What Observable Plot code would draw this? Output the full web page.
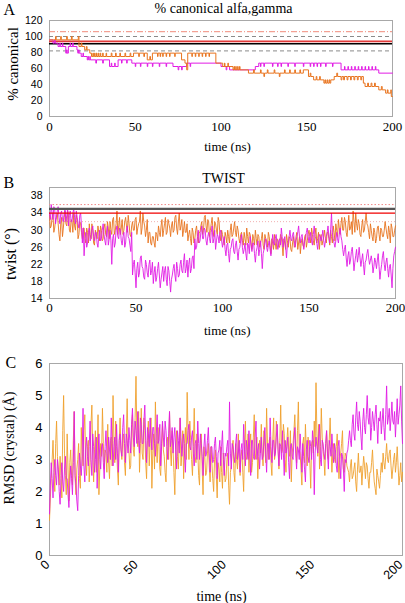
<!DOCTYPE html>
<html><head><meta charset="utf-8">
<script src="https://cdn.jsdelivr.net/npm/d3@7"></script>
<script src="https://cdn.jsdelivr.net/npm/@observablehq/plot@0.6"></script>
<style>
body{margin:0;background:#fff;}
#wrap{position:relative;width:405px;height:603px;overflow:hidden;background:#fff;}
.panel{position:absolute;left:0;}
.ylab{position:absolute;white-space:nowrap;font-family:"Liberation Serif","Times New Roman",serif;color:#000;transform:translate(-50%,-50%) rotate(-90deg);line-height:1;}
</style></head><body><div id="wrap"></div>
<script>
// ---------- tick labels ----------
const timeTicks = [0, 50, 100, 150, 200];
const canonTicks = [0, 20, 40, 60, 80, 100, 120];
const twistTicks = [14, 18, 22, 26, 30, 34, 38];
const rmsdTicks = [0, 1, 2, 3, 4, 5, 6];

// ---------- panel A: % canonical alfa,gamma ([time ns, %]) ----------
const canonRefDashDot = [106];
const canonRefGray = [100, 82];
const canonRefRed = [94];
const canonRefBlack = [91];

const canonOrange = [[0,95.8],[3.5,100],[3.9,95.8],[6.5,100],[6.9,95.8],[10,100],[10.4,95.8],[12.8,100],[13.2,95.8],[16.8,100],[17.2,87.5],[18.5,91.7],[18.9,87.5],[20.5,83.3],[21.5,87.5],[21.9,83.3],[23.5,79.2],[24.5,75],[25.3,79.2],[25.6,75],[26.3,79.2],[26.6,75],[27.4,79.2],[27.7,75],[28.5,79.2],[28.8,75],[29.6,79.2],[29.9,75],[31,79.2],[31.3,75],[33,79.2],[33.3,75],[36,79.2],[36.4,75],[38.5,79.2],[38.9,75],[41,79.2],[41.4,75],[44,79.2],[44.4,75],[47,79.2],[47.4,75],[49,79.2],[52,75],[52.4,79.2],[55,75],[55.4,79.2],[57,70.8],[58.5,75],[58.9,70.8],[60,79.2],[63,75],[63.3,79.2],[64.5,75],[64.8,79.2],[66,75],[66.3,79.2],[68,75],[68.3,79.2],[70,75],[70.3,79.2],[73,75],[73.3,79.2],[77,70.8],[79,66.7],[80,58.3],[80.6,79.2],[83,75],[83.3,79.2],[85,75],[85.3,79.2],[87,75],[87.3,79.2],[89,75],[89.3,79.2],[91,75],[91.3,79.2],[93,75],[93.3,79.2],[97,66.7],[101,62.5],[102,66.7],[102.3,62.5],[104,66.7],[104.3,62.5],[107,58.3],[107.6,62.5],[107.9,58.3],[108.6,62.5],[108.9,58.3],[109.7,62.5],[110,58.3],[110.8,62.5],[111.1,58.3],[116,54.2],[119,58.3],[119.4,54.2],[123,58.3],[123.4,54.2],[125,50],[125.4,54.2],[127,58.3],[127.4,54.2],[131,58.3],[131.4,54.2],[134,50],[134.4,54.2],[137,58.3],[137.4,54.2],[140,58.3],[140.4,54.2],[143,58.3],[143.4,54.2],[146,58.3],[146.4,54.2],[148,58.3],[151,50],[152,54.2],[152.4,50],[154,45.8],[155.5,50],[155.9,45.8],[157.5,50],[157.9,45.8],[160,41.7],[160.6,45.8],[161,41.7],[161.8,45.8],[162.2,41.7],[163,45.8],[163.4,41.7],[164,45.8],[166,50],[167.5,54.2],[168,50],[170,45.8],[170.5,50],[171.5,45.8],[172,50],[173.5,45.8],[174,50],[175.5,45.8],[176,50],[177.5,45.8],[178,50],[179.5,45.8],[180,50],[181.5,45.8],[182,50],[183,41.7],[184,37.5],[185.5,41.7],[186,37.5],[187.5,41.7],[188,37.5],[189.5,41.7],[190,37.5],[192,33.3],[193.5,37.5],[194,33.3],[196,29.2],[197,33.3],[197.4,29.2],[199,33.3],[199.3,25],[200,25]];

const canonMagenta = [[0,95.8],[2,91.7],[3,95.8],[3.3,91.7],[5,87.5],[6,91.7],[6.3,87.5],[7.5,91.7],[7.8,87.5],[9.5,79.2],[10,83.3],[10.3,79.2],[11,87.5],[12,91.7],[12.3,87.5],[13.5,91.7],[13.8,87.5],[16,83.3],[16.5,79.2],[17,83.3],[17.3,79.2],[18.5,75],[19.5,79.2],[19.8,75],[22,70.8],[22.4,75],[22.8,70.8],[23.5,75],[23.8,70.8],[27,66.7],[27.4,70.8],[31,66.7],[31.4,70.8],[35,62.5],[36,66.7],[36.3,62.5],[38,66.7],[38.3,62.5],[40,70.8],[42,66.7],[42.3,70.8],[45,66.7],[45.3,70.8],[48,66.7],[50,62.5],[50.3,66.7],[53,62.5],[53.3,66.7],[57,62.5],[57.3,66.7],[60,62.5],[60.3,66.7],[64,62.5],[64.3,66.7],[68,62.5],[68.3,66.7],[72,62.5],[75,58.3],[75.4,62.5],[77,58.3],[77.4,62.5],[80,66.7],[82,62.5],[82.3,66.7],[100,62.5],[103,58.3],[103.4,62.5],[105,58.3],[120,62.5],[122,66.7],[123,62.5],[123.3,66.7],[125,62.5],[125.3,66.7],[130,62.5],[130.3,66.7],[133,62.5],[133.3,66.7],[135,62.5],[135.3,66.7],[139,62.5],[139.3,66.7],[143,62.5],[143.3,66.7],[148,62.5],[148.3,66.7],[152,62.5],[152.3,66.7],[154,62.5],[154.3,66.7],[156,62.5],[156.3,66.7],[158,62.5],[158.3,66.7],[161,62.5],[161.3,66.7],[165,62.5],[165.3,66.7],[170,58.3],[172,62.5],[172.3,58.3],[174,62.5],[174.3,58.3],[176,62.5],[176.3,58.3],[178,62.5],[178.3,58.3],[180,62.5],[180.3,58.3],[182,62.5],[182.3,58.3],[184,62.5],[184.3,58.3],[186,62.5],[186.3,58.3],[188,62.5],[188.3,58.3],[190,62.5],[190.3,58.3],[192,54.2],[200,54.2]];

// ---------- panel B: TWIST (values at whole ns 0..200, and at half ns 0.5..199.5) ----------
const twistRefDotted = [36];
const twistRefGray = [35];
const twistRefRed = [34];
const twistRefFaint = [32];

const twistOrange = [
33.5,31,34,30.5,33,31.5,27.5,33,30.5,34.5,
31,33.5,29.5,32,34,30,32.5,29,31.5,28,
30.5,27,29.5,31.5,28,30,26.5,29,31,27.5,
30,28,31.5,28.5,30.5,32,29,33,30,34.5,
31,29,32.5,30,33,29.5,31.5,28.5,32,30,
33,30.5,32,29,34,31,30,27,29.5,26.5,
28.5,26,29,31,28.5,32.5,30,33,29.5,31.5,
28.5,32,30,33.5,29,34,31,28.5,32,29.5,
27.5,30,26.5,29.5,28,31,27,29.5,32,30,
33.5,29.5,32,30,33,28.5,31.5,29,32,27.5,
29,26.5,28.5,30,27,31.5,29,32,28.5,30,
27,29.5,26.5,28,30.5,27,29,25.5,28,30,
26.5,28.5,27,29.5,25.5,28,26,28.5,24.5,27,
29,25.5,27.5,26,28.5,24,27,29,26,28,
25,28.5,26.5,29.5,27,24.5,28,26,29,27.5,
30,27,29,26.5,30.5,28,25.5,29,27.5,30,
27,29.5,26.5,28.5,31,27.5,30,32.5,29,33,
30,32,28.5,33.5,30.5,29,32,34,30,31.5,
28.5,32.5,30,34,31,28,30,27.5,29.5,28,
31,27.5,30,28.5,32,29,31,27,30.5,28.5,
31];
const twistOrangeHalf = [
30.5,33,29.5,32.5,34,29,31.5,28.5,33,31.5,
34.5,30,32.5,29.5,31,33.5,28,32,29.5,30.5,
28,30.5,27,29,31.5,27,30,28,29.5,31,
27.5,30.5,29,32,28,30,32.5,29,31.5,29,
33,30.5,29,32,31,33.5,29,31,30,32.5,
29,31.5,34.5,30.5,32,28.5,32.5,29.5,27,28.5,
27,29.5,27.5,29.5,31,28.5,31.5,29,32.5,30.5,
31,29.5,33,30.5,32,30,32.5,30,29.5,31.5,
29,28,30.5,27,30,28.5,29.5,31,29,33,
31,32.5,28.5,31.5,30,32,30,33,29,30,
27.5,29.5,27,28.5,30,28.5,30.5,29.5,31,28,
29,27.5,29.5,26.5,28.5,29.5,27,29,26.5,28,
29,26,28,26.5,29,27.5,29.5,26.5,28,25.5,
27,28,26,29,26.5,28,25.5,27.5,28.5,25.5,
27,26,28.5,25.5,28.5,27,26.5,28.5,26,29,
28.5,30.5,27.5,29,27,29.5,28,26.5,28.5,28,
29.5,28,30,27,29.5,31.5,28.5,30.5,31.5,30,
33,29.5,31,30,32,34.5,29.5,31.5,32.5,29,
31,29.5,32,31.5,29.5,31.5,28.5,30.5,27,30.5,
29,30.5,28.5,30,30.5,28,29.5,31.5,28.5,30];

const twistMagenta = [
34,36,32.5,35,33,35.5,31.5,34.5,32,35,
33.5,31,34.5,32,35,31.5,33,30.5,34,27,
24,29.5,27,30.5,28,31,27.5,29.5,26,30,
28,31.5,27.5,29.5,26.5,30,22,29,27,31,
28,30,26.5,29.5,27,31,28,25,19.5,23,
16.5,22.5,20,24,21,18.5,22,19,23,20.5,
17.5,21.5,19,22.5,16.5,20,18,21.5,17,20.5,
15.5,19.5,22,18,21,19.5,23,20,24.5,21,
19,23.5,21,24,28,26,30,27.5,31,28,
30,26.5,29.5,27,31,28,25.5,29,27,30,
26,28.5,24,27,22.5,26,28,24.5,27.5,23,
26,29,24.5,27,23,26.5,28.5,25,27,22.5,
26,24,27.5,21,25.5,28,25,27.5,24,29,
26.5,29,25.5,28,30.5,26,28.5,23.5,27,30,
27.5,29.5,26,28.5,31,27,29,25.5,28,30.5,
27,29.5,26.5,31,28,25.5,29,27.5,30,26,
28.5,31,27,34,28,26,29.5,27,30.5,27.5,
24,26.5,21.5,25,23,26,20.5,24,22.5,26,
21.5,24.5,19.5,23,25.5,22,24,20,23.5,21,
24.5,18.5,22,25,20.5,23.5,19,22,16.5,24,
26];
const twistMagentaHalf = [
32.5,34,35.5,31.5,34.5,33,34,32.5,34,32,
35,33.5,32,34,33,34.5,31.5,33.5,31,30.5,
28,26,29.5,27.5,30,28.5,29.5,27,28.5,27.5,
30,29,26.5,31,28,27.5,28,26,30,28.5,
30.5,27.5,28.5,26,30,28.5,26.5,29.5,22,20,
21,19,23.5,21.5,19,23,20,22,19.5,22.5,
20,18,21,19.5,18.5,21.5,20.5,18.5,21.5,18,
18.5,21,19.5,22.5,19,22,20.5,22.5,20,23,
22,20,23.5,21,25.5,28.5,27,29.5,28,30.5,
27.5,28.5,28,29.5,27,30,27.5,28.5,29.5,27.5,
27.5,25.5,26.5,24.5,25.5,27.5,25,26.5,25,25.5,
27.5,26,25.5,24.5,27,24.5,26.5,27,24.5,25,
27.5,25.5,24.5,24.5,27,26,26.5,25.5,26.5,27,
28,27,27.5,26.5,28.5,27.5,26,26.5,28.5,28,
29,27.5,27.5,29.5,28.5,28.5,27,27.5,29.5,28.5,
28.5,27.5,29,28.5,27,27.5,28.5,28.5,27.5,27.5,
29.5,28.5,30,29.5,27,27.5,28,29,28.5,25.5,
25.5,23.5,24,22,25,23.5,22.5,25.5,24,23.5,
23,22,22.5,24.5,23.5,23,22.5,21.5,22.5,23,
21.5,20.5,24,22,22.5,21,21.5,19.5,21,25];

// ---------- panel C: RMSD (crystal) (values at whole ns and at half ns) ----------
const rmsdOrange = [
1.1,2.4,3.6,2.0,4.2,2.6,3.1,1.8,5.0,2.5,
3.8,1.7,3.3,2.2,4.5,1.9,3.0,2.4,4.0,2.8,
4.4,2.5,3.6,2.9,4.7,2.3,3.9,3.0,1.9,3.5,
4.6,2.7,3.2,4.1,2.4,3.7,5.0,2.9,3.4,2.2,
4.3,3.0,3.8,2.5,4.9,3.3,2.8,4.4,3.1,5.6,
3.4,2.6,4.6,3.0,3.9,2.4,4.2,3.5,2.1,3.8,
4.8,2.9,3.4,2.5,4.1,3.1,2.3,3.7,4.5,2.8,
3.3,1.9,3.9,2.7,4.3,3.2,2.4,4.0,5.1,3.0,
3.6,2.5,4.6,2.9,3.3,2.2,3.8,1.9,3.1,2.6,
3.5,2.3,2.9,2.0,3.3,1.8,2.7,3.4,2.1,2.9,
2.4,3.2,1.6,2.8,3.6,2.3,3.0,3.8,2.5,3.3,
2.0,4.2,3.1,2.6,3.8,2.9,4.4,3.2,2.4,3.6,
4.1,2.8,3.4,4.6,3.0,3.7,2.5,4.3,3.2,3.9,
2.7,4.7,3.3,3.8,2.6,4.0,3.1,2.3,3.5,4.4,
2.9,4.8,3.2,2.2,3.7,4.1,2.8,3.4,2.1,3.6,
4.2,5.4,3.1,2.7,4.6,3.3,2.5,3.9,3.0,4.3,
2.6,3.5,2.9,3.8,2.4,3.2,3.9,2.6,3.1,2.7,
2.3,3.0,2.5,2.9,2.0,3.2,2.6,2.2,3.1,2.4,
2.8,2.1,2.6,3.3,2.3,1.9,2.5,2.1,2.9,3.2,
2.7,3.5,2.9,3.3,2.4,3.0,2.6,3.4,2.2,2.9,
2.6];
const rmsdOrangeHalf = [
1.8,3.0,2.7,3.5,3.1,2.2,2.5,3.9,3.2,1.9,
2.7,2.9,2.5,3.6,2.4,2.7,3.5,2.1,3.3,3.9,
3.0,3.4,2.3,4.1,3.2,3.3,2.6,4.4,2.7,3.1,
3.5,3.3,2.6,2.9,3.6,2.8,3.6,4.2,2.7,3.6,
3.3,3.6,2.9,3.7,3.5,2.7,4.0,3.3,4.3,3.8,
4.5,3.5,3.2,4.3,2.9,3.6,2.8,4.3,3.2,2.7,
3.6,4.0,2.7,3.5,3.3,2.6,3.4,3.0,3.3,3.9,
2.6,3.3,3.1,3.6,2.8,3.9,3.5,3.0,3.9,4.2,
3.0,3.4,3.1,3.8,2.5,3.6,2.7,3.4,2.5,3.2,
2.8,3.4,2.4,3.0,2.5,2.9,2.3,2.6,3.2,2.3,
3.0,2.2,2.6,3.3,2.6,3.5,2.7,2.9,3.1,2.6,
3.3,3.0,3.8,3.5,2.6,3.7,3.0,3.7,3.1,3.2,
3.2,3.9,2.9,3.5,3.6,2.9,3.6,3.0,4.2,3.3,
3.6,3.2,4.1,3.0,3.6,3.3,3.9,3.2,3.9,3.4,
3.9,3.3,2.7,3.5,2.9,3.3,3.7,2.9,3.5,3.2,
3.4,3.8,4.1,3.4,3.7,3.0,3.5,3.1,3.6,3.4,
3.2,3.0,3.4,3.1,3.0,3.5,2.7,3.2,2.8,2.6,
2.8,2.4,2.7,2.3,2.7,2.6,2.8,2.7,2.8,2.9,
2.4,2.6,2.9,2.7,2.1,2.7,2.3,2.5,2.6,2.9,
3.1,3.0,3.2,2.8,2.7,3.2,2.9,2.8,2.5,2.3];

const rmsdMagenta = [
1.3,2.9,1.8,3.0,2.2,2.7,1.6,2.9,2.0,3.1,
2.4,1.5,2.8,1.9,4.5,2.2,1.4,3.2,2.5,4.6,
2.3,3.7,2.8,4.2,2.5,3.4,3.0,2.1,3.8,2.7,
3.5,2.4,3.9,2.9,3.3,4.3,2.8,3.7,4.1,2.6,
3.8,3.1,4.4,2.9,3.6,4.0,3.2,4.6,3.4,3.9,
4.5,3.2,4.1,3.5,4.7,2.9,3.8,4.3,3.3,4.0,
3.1,4.4,3.6,2.8,4.2,3.4,3.9,3.0,4.5,3.6,
3.2,4.0,2.7,3.6,4.3,3.1,3.8,2.6,3.5,4.1,
3.3,3.9,2.8,3.6,4.2,3.0,3.5,2.5,3.8,3.2,
4.0,2.6,3.4,3.0,3.7,2.4,3.3,2.8,3.9,2.5,
3.1,3.6,4.8,2.7,3.4,2.9,3.8,3.2,2.6,3.5,
4.1,2.8,3.3,3.9,2.5,3.6,3.0,4.2,3.3,2.7,
3.7,3.1,4.0,2.6,3.5,4.3,2.9,3.6,3.2,4.1,
2.8,3.4,3.9,2.5,3.2,3.7,2.4,3.5,3.0,4.0,
2.7,3.3,3.8,2.6,3.1,2.3,3.6,2.9,3.4,3.9,
1.9,3.7,3.2,4.1,2.8,3.5,3.0,3.9,2.7,3.4,
3.8,2.9,3.3,2.6,3.6,2.4,3.1,2.0,2.9,3.3,
3.9,3.4,4.4,3.6,4.8,3.9,4.2,3.3,4.6,3.8,
5.0,4.1,3.6,4.5,3.9,4.7,3.5,4.2,3.8,4.6,
3.6,5.3,4.3,3.9,4.8,4.1,3.7,4.9,4.4,5.3,
3.5];
const rmsdMagentaHalf = [
2.2,2.4,2.6,2.5,3.0,2.0,2.4,2.3,2.7,2.4,
1.9,2.2,2.4,2.9,2.5,1.7,2.5,2.8,3.1,2.8,
3.3,3.1,3.4,3.0,3.8,2.6,3.7,3.1,3.0,3.4,
2.9,3.4,3.2,3.7,3.0,3.5,3.4,3.0,3.2,3.6,
3.3,4.0,3.5,3.8,3.2,3.6,4.1,3.7,4.2,3.5,
3.6,4.3,3.5,4.2,3.6,4.0,3.4,3.7,4.0,3.5,
3.8,3.5,4.1,3.4,3.7,4.2,3.4,3.8,3.4,4.0,
3.7,3.3,3.9,3.2,3.7,3.5,3.2,3.5,3.9,3.4,
3.7,3.2,3.5,3.0,3.5,3.8,3.1,3.4,3.1,3.6,
3.2,3.4,2.9,3.5,3.1,3.2,3.6,3.4,3.0,3.2,
3.4,2.8,3.2,3.5,3.1,3.5,3.0,3.6,3.3,3.0,
3.3,3.6,3.0,3.2,3.6,3.1,3.7,3.0,3.5,3.2,
3.0,3.6,3.2,3.5,3.0,3.4,3.6,3.1,3.7,3.3,
3.5,3.0,3.2,3.6,3.4,2.9,3.4,3.1,3.6,3.2,
3.4,3.0,3.2,3.5,2.7,3.3,3.1,3.6,3.0,3.5,
3.2,3.4,3.7,3.0,3.6,3.2,3.5,3.2,3.6,3.1,
3.3,3.5,2.8,3.4,2.9,3.2,2.7,3.0,3.2,3.6,
3.6,4.1,3.8,4.3,4.1,4.5,3.7,4.2,4.0,4.4,
4.3,4.6,4.0,4.2,4.4,4.1,4.3,4.5,4.2,4.0,
4.4,4.1,4.6,4.3,4.2,4.5,4.3,4.1,4.7,4.2];

// ---------- styling ----------
const SERIF = "Liberation Serif, Times New Roman, serif";
const SANS = "Liberation Sans, Arial, sans-serif";
const ORANGE = "#E8741F";
const MAGENTA = "#E11BE4";
const AMBER = "#EFA02E";
const FRAME = "#A8A8A8";

// merge whole-ns and half-ns readings into one time-ordered series
const series = (whole, half) => d3.sort(
  whole.map((v, i) => ({t: i, v})).concat(half.map((v, i) => ({t: i + 0.5, v}))),
  d => d.t);
const pairs = arr => arr.map(([t, v]) => ({t, v}));

const wrap = document.getElementById("wrap");
function place(svg, top) {
  const d = document.createElement("div");
  d.className = "panel";
  d.style.top = top + "px";
  d.appendChild(svg);
  wrap.appendChild(d);
}
function yLabel(text, cx, cy, size) {
  const d = document.createElement("div");
  d.className = "ylab";
  d.style.left = cx + "px";
  d.style.top = cy + "px";
  d.style.fontSize = size + "px";
  d.textContent = text;
  wrap.appendChild(d);
}

// Panel A
const plotA = Plot.plot({
  width: 405, height: 165,
  marginLeft: 49, marginRight: 13, marginTop: 20, marginBottom: 49,
  style: {fontFamily: SANS, background: "white", overflow: "visible", color: "#000"},
  x: {domain: [0, 200]},
  y: {domain: [0, 120]},
  marks: [
    Plot.frame({stroke: FRAME}),
    Plot.ruleY(canonRefDashDot, {stroke: "#F08A7A", strokeWidth: 1, strokeDasharray: "6,2,1,2"}),
    Plot.ruleY(canonRefGray, {stroke: "#8A8A8A", strokeWidth: 1, strokeDasharray: "4,3"}),
    Plot.ruleY(canonRefRed, {stroke: "#E23A3A", strokeWidth: 1.8}),
    Plot.ruleY(canonRefBlack, {stroke: "#000", strokeWidth: 1.5}),
    Plot.line(pairs(canonMagenta), {x: "t", y: "v", curve: "step-after", stroke: MAGENTA, strokeWidth: 1}),
    Plot.line(pairs(canonOrange), {x: "t", y: "v", curve: "step-after", stroke: ORANGE, strokeWidth: 1}),
    Plot.axisY({ticks: canonTicks, tickSize: 0, tickPadding: 7, fontSize: 10.5, fontFamily: SANS, label: null}),
    Plot.axisX({ticks: timeTicks, tickSize: 0, tickPadding: 5, fontSize: 13, fontFamily: SERIF, label: null}),
    Plot.text(["A"], {frameAnchor: "top-left", textAnchor: "start", lineAnchor: "middle", dx: -46, dy: -11, fontSize: 16, fontFamily: SERIF}),
    Plot.text(["% canonical alfa,gamma"], {frameAnchor: "top", lineAnchor: "middle", dx: 2.5, dy: -12, fontSize: 14, fontFamily: SERIF}),
    Plot.text(["time (ns)"], {frameAnchor: "bottom", lineAnchor: "middle", dx: 6.5, dy: 30, fontSize: 13, fontFamily: SERIF})
  ]
});
place(plotA, 0);

// Panel B
const plotB = Plot.plot({
  width: 405, height: 175,
  marginLeft: 49, marginRight: 10, marginTop: 22, marginBottom: 42,
  style: {fontFamily: SANS, background: "white", overflow: "visible", color: "#000"},
  x: {domain: [0, 200]},
  y: {domain: [14, 40]},
  marks: [
    Plot.frame({stroke: FRAME}),
    Plot.ruleY(twistRefFaint, {stroke: "#F2B0B0", strokeWidth: 1, strokeDasharray: "1,2"}),
    Plot.line(series(twistOrange, twistOrangeHalf), {x: "t", y: "v", stroke: ORANGE, strokeWidth: 0.9}),
    Plot.line(series(twistMagenta, twistMagentaHalf), {x: "t", y: "v", stroke: MAGENTA, strokeWidth: 0.9}),
    Plot.ruleY(twistRefDotted, {stroke: "#F08A8A", strokeWidth: 1, strokeDasharray: "1.5,2"}),
    Plot.ruleY(twistRefGray, {stroke: "#555555", strokeWidth: 2.4}),
    Plot.ruleY(twistRefRed, {stroke: "#F00000", strokeWidth: 1.2}),
    Plot.axisY({ticks: twistTicks, tickSize: 0, tickPadding: 7, fontSize: 10.5, fontFamily: SANS, label: null}),
    Plot.axisX({ticks: timeTicks, tickSize: 0, tickPadding: 4, fontSize: 13, fontFamily: SERIF, label: null}),
    Plot.text(["B"], {frameAnchor: "top-left", textAnchor: "start", lineAnchor: "middle", dx: -46, dy: -4.5, fontSize: 16, fontFamily: SERIF}),
    Plot.text(["TWIST"], {frameAnchor: "top", lineAnchor: "middle", dx: 1, dy: -8.5, fontSize: 14, fontFamily: SERIF}),
    Plot.text(["time (ns)"], {frameAnchor: "bottom", lineAnchor: "middle", dx: 4.7, dy: 32, fontSize: 13, fontFamily: SERIF})
  ]
});
place(plotB, 165);

// Panel C
const plotC = Plot.plot({
  width: 405, height: 263,
  marginLeft: 49, marginRight: 3, marginTop: 23, marginBottom: 48,
  style: {fontFamily: SANS, background: "white", overflow: "visible", color: "#000"},
  x: {domain: [0, 200]},
  y: {domain: [0, 6]},
  marks: [
    Plot.frame({stroke: FRAME}),
    Plot.line(series(rmsdOrange, rmsdOrangeHalf), {x: "t", y: "v", stroke: AMBER, strokeWidth: 0.9}),
    Plot.line(series(rmsdMagenta, rmsdMagentaHalf), {x: "t", y: "v", stroke: MAGENTA, strokeWidth: 0.9}),
    Plot.axisY({ticks: rmsdTicks, tickFormat: d3.format("d"), tickSize: 0, tickPadding: 7, fontSize: 13, fontFamily: SANS, label: null}),
    Plot.axisX({ticks: timeTicks, tickFormat: d3.format("d"), tickSize: 0, tickPadding: 6, tickRotate: -45, dx: -2, dy: 1, fontSize: 12.5, fontFamily: SANS, label: null}),
    Plot.text(["C"], {frameAnchor: "top-left", textAnchor: "start", lineAnchor: "middle", dx: -44, dy: -0.5, fontSize: 16, fontFamily: SERIF}),
    Plot.text(["time (ns)"], {frameAnchor: "bottom", lineAnchor: "middle", dx: -4.5, dy: 41, fontSize: 14, fontFamily: SERIF})
  ]
});
place(plotC, 340);

// rotated y-axis titles
yLabel("% canonical", 12.5, 64, 15);
yLabel("twist (°)", 10.5, 253.5, 16);
yLabel("RMSD (crystal) (Å)", 9.5, 447.5, 14);
</script>
</body></html>
